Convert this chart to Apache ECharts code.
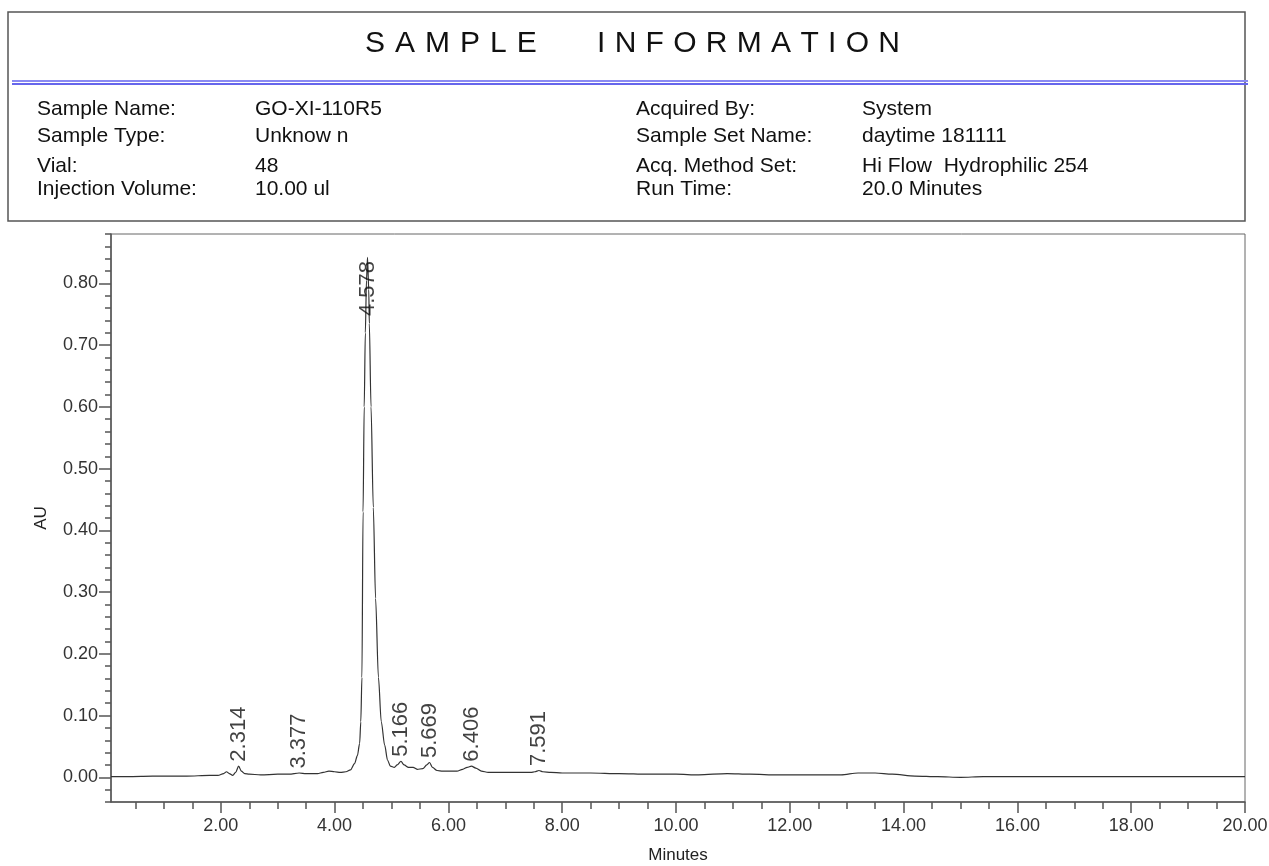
<!DOCTYPE html>
<html>
<head>
<meta charset="utf-8">
<script src="https://cdn.jsdelivr.net/npm/echarts@6/dist/echarts.min.js"></script>
<style>
  html, body { margin: 0; padding: 0; background: #fff; }
  #chart { width: 1269px; height: 866px; }
</style>
</head>
<body>
<div id="chart"></div>
<script>
const FONT = '"Liberation Sans", Arial, Helvetica, sans-serif';

// ---- Sample information block ----
const titleWords = ['SAMPLE', 'INFORMATION'];
const infoLeftLabels = ['Sample Name:', 'Sample Type:', 'Vial:', 'Injection Volume:'];
const infoLeftValues = ['GO-XI-110R5', 'Unknow n', '48', '10.00 ul'];
const infoRightLabels = ['Acquired By:', 'Sample Set Name:', 'Acq. Method Set:', 'Run Time:'];
const infoRightValues = ['System', 'daytime 181111', 'Hi Flow  Hydrophilic 254', '20.0 Minutes'];

// ---- Chromatogram trace (retention time in minutes, absorbance in AU) ----
const traceMinutes = [
  0.07, 0.3, 0.6, 1.0, 1.4, 1.8, 1.95, 2.05, 2.10, 2.15, 2.21, 2.26, 2.314, 2.36, 2.42,
  2.5, 2.7, 3.0, 3.2, 3.377, 3.5, 3.7, 3.8, 3.9, 4.0, 4.1, 4.2, 4.28, 4.35, 4.40,
  4.44, 4.46, 4.48, 4.50, 4.52, 4.54, 4.56, 4.578, 4.60, 4.61, 4.64, 4.68, 4.72, 4.77, 4.82,
  4.88, 4.93, 4.98, 5.05, 5.10, 5.166, 5.22, 5.30, 5.38, 5.45, 5.55, 5.62, 5.669, 5.72, 5.80,
  5.90, 6.0, 6.15, 6.25, 6.33, 6.406, 6.48, 6.58, 6.70, 6.9, 7.2, 7.45, 7.52, 7.591, 7.66,
  7.8, 8.0, 8.5, 9.0, 9.5, 10.0, 10.4, 10.9, 11.3, 11.8, 12.4, 12.9, 13.2, 13.5, 13.8,
  14.2, 14.6, 15.0, 15.4, 16.0, 17.0, 17.8, 18.5, 19.2, 20.0
];
const traceAU = [
  0.001, 0.001, 0.0015, 0.002, 0.002, 0.003, 0.003, 0.006, 0.009, 0.006, 0.003, 0.008, 0.018, 0.010, 0.006,
  0.005, 0.004, 0.005, 0.005, 0.007, 0.006, 0.006, 0.008, 0.010, 0.009, 0.008, 0.009, 0.012, 0.022, 0.035,
  0.055, 0.090, 0.162, 0.430, 0.600, 0.720, 0.805, 0.842, 0.790, 0.735, 0.600, 0.437, 0.290, 0.162, 0.090,
  0.052, 0.028, 0.018, 0.016, 0.020, 0.026, 0.020, 0.016, 0.016, 0.013, 0.014, 0.020, 0.024, 0.016, 0.011,
  0.010, 0.010, 0.010, 0.013, 0.016, 0.018, 0.015, 0.010, 0.008, 0.008, 0.008, 0.008, 0.009, 0.011, 0.009,
  0.008, 0.007, 0.007, 0.006, 0.005, 0.005, 0.004, 0.006, 0.005, 0.004, 0.004, 0.004, 0.007, 0.007, 0.005,
  0.002, 0.001, 0.000, 0.001, 0.001, 0.001, 0.0012, 0.001, 0.001, 0.001
];

// ---- Integrated peaks (apex retention time and height) ----
const peakRT = [2.314, 3.377, 4.578, 5.166, 5.669, 6.406, 7.591];
const peakAU = [0.018, 0.007, 0.842, 0.026, 0.024, 0.018, 0.011];

// ---- Axis ticks ----
const xMajorTicks = [2, 4, 6, 8, 10, 12, 14, 16, 18, 20];
const xMinorTicks = [0.5, 1, 1.5, 2, 2.5, 3, 3.5, 4, 4.5, 5, 5.5, 6, 6.5, 7, 7.5, 8, 8.5, 9, 9.5, 10,
  10.5, 11, 11.5, 12, 12.5, 13, 13.5, 14, 14.5, 15, 15.5, 16, 16.5, 17, 17.5, 18, 18.5, 19, 19.5, 20];
const yMajorTicks = [0, 0.1, 0.2, 0.3, 0.4, 0.5, 0.6, 0.7, 0.8];

const X_MIN = 0.07, X_MAX = 20;
const Y_MIN = -0.04, Y_MAX = 0.88;

// ---- Header graphics ----
const graphics = [];
graphics.push({
  type: 'rect', shape: { x: 8, y: 12, width: 1237, height: 209 },
  style: { fill: 'none', stroke: '#555', lineWidth: 1.5 }, silent: true
});
graphics.push({
  type: 'line', shape: { x1: 12, y1: 81, x2: 1248, y2: 81 },
  style: { stroke: '#8a8af2', lineWidth: 2 }, silent: true
});
graphics.push({
  type: 'line', shape: { x1: 12, y1: 84, x2: 1248, y2: 84 },
  style: { stroke: '#6666ec', lineWidth: 2 }, silent: true
});

// Letter-spaced title, laid out one glyph at a time
const measureCtx = document.createElement('canvas').getContext('2d');
const titleFont = '30px ' + FONT;
measureCtx.font = titleFont;
const titleStarts = [365, 597];
const titleSpacing = [10, 9.3];
titleWords.forEach((word, w) => {
  let x = titleStarts[w];
  for (const ch of word) {
    graphics.push({
      type: 'text', x: x, y: 44, silent: true,
      style: { text: ch, font: titleFont, fill: '#111', verticalAlign: 'middle', align: 'left' }
    });
    x += measureCtx.measureText(ch).width + titleSpacing[w];
  }
});

const infoFont = '21px ' + FONT;
const rowCenters = [109, 136, 166, 189];
const infoColumns = [
  [37, infoLeftLabels], [255, infoLeftValues], [636, infoRightLabels], [862, infoRightValues]
];
infoColumns.forEach(([x, texts]) => {
  texts.forEach((t, i) => {
    graphics.push({
      type: 'text', x: x, y: rowCenters[i], silent: true,
      style: { text: t, font: infoFont, fill: '#111', verticalAlign: 'middle', align: 'left' }
    });
  });
});

// ---- Chart ----
const chart = echarts.init(document.getElementById('chart'), null, { renderer: 'canvas' });
const mainPeak = peakAU.indexOf(Math.max(...peakAU));

const axisLineStyle = { color: '#555', width: 1.5 };

chart.setOption({
  animation: false,
  backgroundColor: '#fff',
  graphic: graphics,
  grid: {
    left: 111, right: 24, top: 234, bottom: 64,
    outerBoundsMode: 'none', containLabel: false,
    show: true, borderColor: '#666', borderWidth: 1, backgroundColor: 'transparent'
  },
  xAxis: [
    {
      type: 'value', min: X_MIN, max: X_MAX, position: 'bottom',
      name: 'Minutes', nameLocation: 'middle', nameGap: 45,
      nameTextStyle: { fontFamily: FONT, fontSize: 17, color: '#222' },
      axisLine: { show: true, onZero: false, lineStyle: axisLineStyle },
      axisTick: { show: true, length: 11, customValues: xMajorTicks, lineStyle: axisLineStyle },
      axisLabel: {
        show: true, customValues: xMajorTicks, margin: 15,
        fontFamily: FONT, fontSize: 18, color: '#333',
        formatter: v => v.toFixed(2)
      },
      splitLine: { show: false }
    },
    {
      type: 'value', min: X_MIN, max: X_MAX, position: 'bottom',
      axisLine: { show: false, onZero: false },
      axisTick: { show: true, length: 7, customValues: xMinorTicks, lineStyle: axisLineStyle },
      axisLabel: { show: false },
      splitLine: { show: false }
    }
  ],
  yAxis: [
    {
      type: 'value', min: Y_MIN, max: Y_MAX, position: 'left',
      name: 'AU', nameLocation: 'middle', nameGap: 61, nameRotate: 90,
      nameTextStyle: { fontFamily: FONT, fontSize: 17, color: '#222' },
      axisLine: { show: true, onZero: false, lineStyle: axisLineStyle },
      axisTick: { show: true, length: 12, customValues: yMajorTicks, lineStyle: axisLineStyle },
      axisLabel: {
        show: true, customValues: yMajorTicks, margin: 13,
        fontFamily: FONT, fontSize: 18, color: '#333',
        formatter: v => v.toFixed(2)
      },
      splitLine: { show: false }
    },
    {
      type: 'value', min: Y_MIN, max: Y_MAX, interval: 0.02, position: 'left',
      axisLine: { show: false, onZero: false },
      axisTick: { show: true, length: 6, lineStyle: axisLineStyle },
      axisLabel: { show: false },
      splitLine: { show: false }
    }
  ],
  series: [
    {
      name: 'UV 254 nm', type: 'line', xAxisIndex: 0, yAxisIndex: 0,
      data: traceMinutes.map((t, i) => [t, traceAU[i]]),
      showSymbol: false, symbol: 'none',
      smooth: 0.3, smoothMonotone: 'x',
      lineStyle: { color: '#333', width: 1.2 },
      silent: true, z: 3
    },
    {
      name: 'Peaks', type: 'scatter', xAxisIndex: 0, yAxisIndex: 0,
      symbolSize: 1, itemStyle: { color: 'rgba(0,0,0,0)' },
      data: peakRT.map((t, i) => {
        const item = { value: [t, peakAU[i]] };
        if (i === mainPeak) {
          item.label = { position: 'bottom', distance: 3, align: 'right' };
        }
        return item;
      }),
      label: {
        show: true, position: 'top', distance: 4, rotate: 90,
        align: 'left', verticalAlign: 'middle',
        fontFamily: FONT, fontSize: 22, color: '#111',
        formatter: p => p.value[0].toFixed(3)
      },
      silent: true, z: 5
    }
  ]
});
</script>
</body>
</html>
